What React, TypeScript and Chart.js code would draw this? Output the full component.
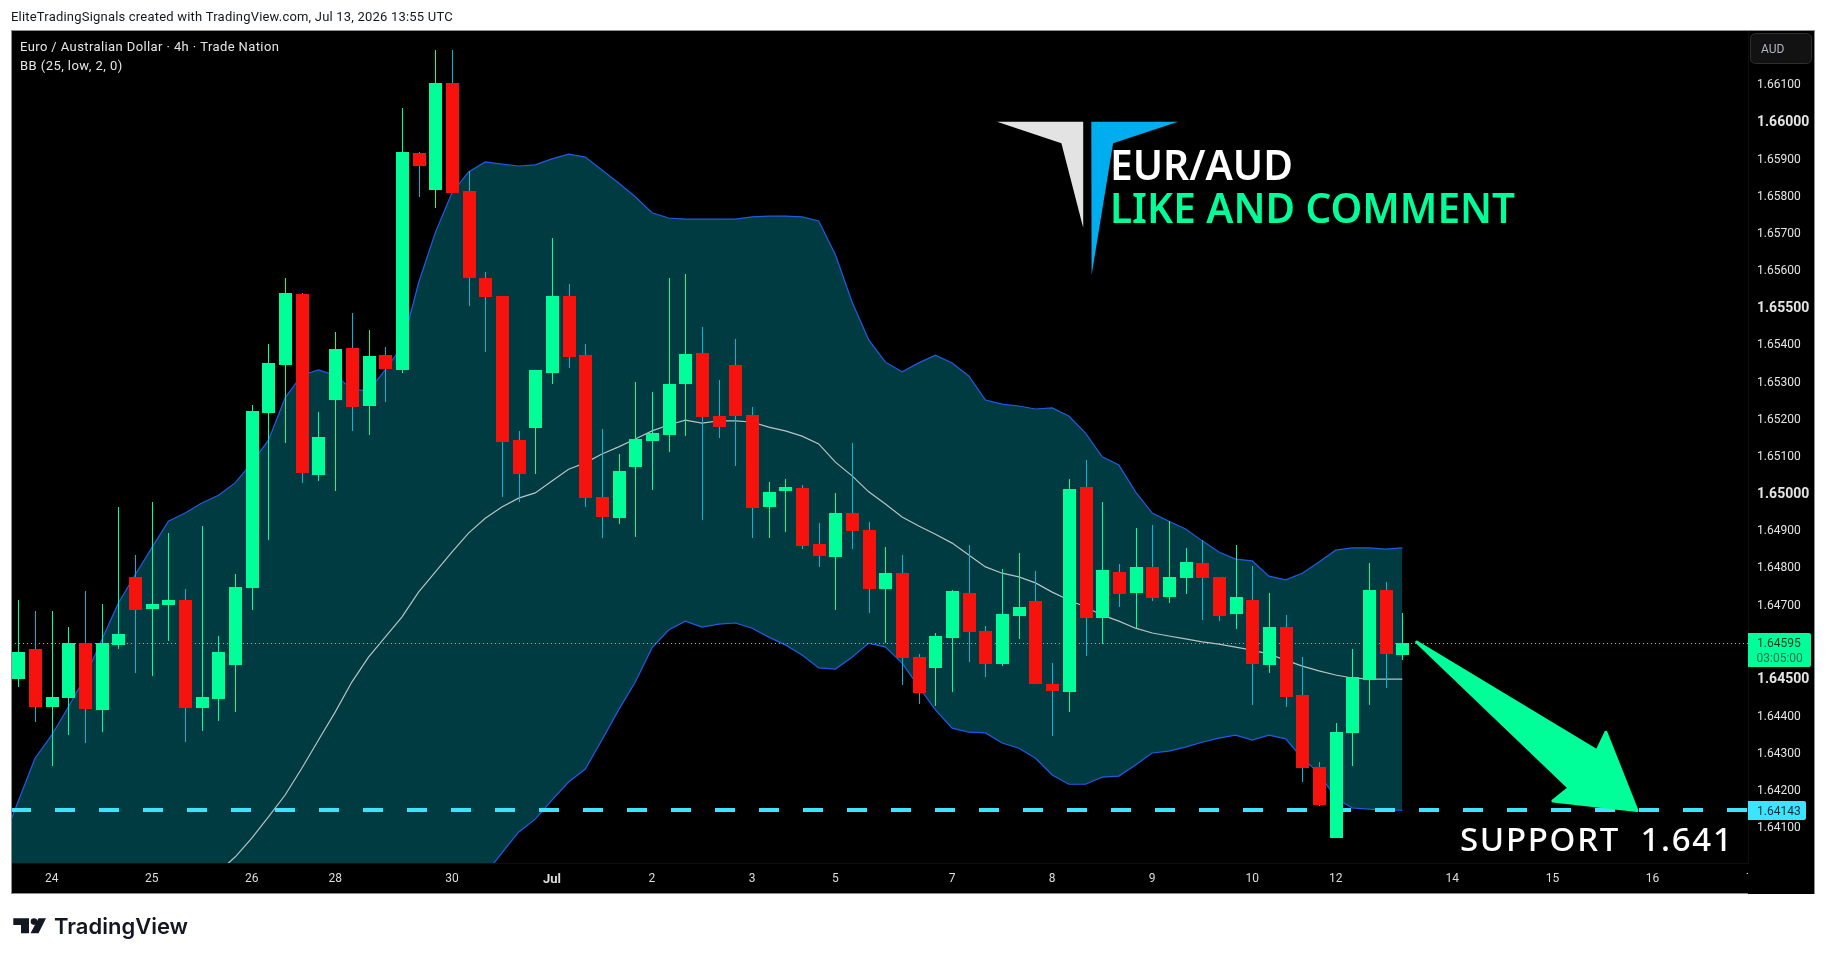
import React, { useEffect, useRef } from "react";
import { Chart, registerables } from "chart.js";

Chart.register(...registerables);

const opens = [1.64498,1.64579,1.64423,1.64447,1.64595,1.64415,1.6459,1.64773,1.64687,1.64697,1.64711,1.6442,1.64444,1.64536,1.64743,1.65214,1.65343,1.65535,1.65047,1.65249,1.65389,1.65233,1.6537,1.6533,1.65914,1.65815,1.66103,1.65812,1.65578,1.65529,1.65141,1.65174,1.65322,1.65529,1.6537,1.64988,1.64931,1.65069,1.65139,1.65155,1.65292,1.65376,1.65206,1.65343,1.65209,1.64961,1.65004,1.65012,1.64862,1.64827,1.64945,1.64899,1.6474,1.64783,1.64557,1.64528,1.64608,1.6473,1.64627,1.64538,1.64668,1.64708,1.64485,1.64463,1.65015,1.64662,1.64786,1.6473,1.648,1.64719,1.6477,1.6481,1.64773,1.64673,1.64711,1.64536,1.64638,1.64455,1.64261,1.6407,1.64353,1.64495,1.64738,1.64563];
const highs = [1.64711,1.64681,1.64681,1.64638,1.64735,1.647,1.64961,1.64832,1.64975,1.64891,1.6474,1.6491,1.64614,1.64781,1.65236,1.654,1.65578,1.65537,1.65217,1.65432,1.65483,1.65438,1.65392,1.66035,1.65917,1.66191,1.66191,1.65866,1.65594,1.65529,1.65166,1.6533,1.65685,1.65561,1.654,1.65171,1.65104,1.65298,1.65271,1.65578,1.65588,1.65446,1.65303,1.65413,1.6523,1.65028,1.65036,1.6502,1.64918,1.64999,1.65133,1.64921,1.64853,1.64832,1.64565,1.64622,1.64738,1.64859,1.64641,1.64794,1.64837,1.64789,1.64541,1.65036,1.65088,1.64975,1.64808,1.64905,1.64913,1.64923,1.64851,1.64872,1.64773,1.64859,1.64802,1.6473,1.6467,1.64557,1.64275,1.6438,1.64579,1.6481,1.64759,1.64676];
const lows = [1.64477,1.64382,1.64264,1.64347,1.64326,1.64355,1.64579,1.64514,1.64506,1.646,1.64328,1.64358,1.64385,1.64409,1.64684,1.64872,1.65133,1.65026,1.65031,1.65004,1.65166,1.65155,1.65244,1.65322,1.65796,1.65766,1.65806,1.65502,1.65378,1.64988,1.64975,1.6505,1.65292,1.65335,1.64961,1.64878,1.64915,1.6488,1.65007,1.65109,1.65152,1.64926,1.65147,1.65071,1.64878,1.64878,1.64894,1.64848,1.648,1.64684,1.64848,1.64676,1.64595,1.64482,1.64431,1.64425,1.64463,1.64544,1.64503,1.64533,1.64606,1.64485,1.64345,1.64409,1.6456,1.64592,1.64692,1.64635,1.64708,1.64703,1.64727,1.64657,1.64654,1.64633,1.64428,1.64514,1.64423,1.64221,1.64156,1.6407,1.64264,1.64428,1.64474,1.64549];
const closes = [1.64571,1.64423,1.6445,1.64595,1.64417,1.64595,1.64619,1.64684,1.647,1.64711,1.6442,1.6445,1.64571,1.64746,1.6522,1.65349,1.65537,1.65053,1.6515,1.65386,1.6523,1.65368,1.65333,1.65917,1.65879,1.66103,1.65806,1.65578,1.65526,1.65136,1.6505,1.6533,1.65529,1.65365,1.64985,1.64934,1.65058,1.65144,1.6516,1.65292,1.65373,1.65203,1.65176,1.65206,1.64958,1.65001,1.65015,1.64856,1.64829,1.64945,1.64896,1.6474,1.64783,1.64555,1.6446,1.64614,1.64735,1.64625,1.64538,1.64673,1.64692,1.64485,1.64466,1.6501,1.64662,1.64792,1.64727,1.648,1.64716,1.64773,1.64813,1.6477,1.64668,1.64719,1.64538,1.64638,1.6445,1.64258,1.64159,1.64355,1.64503,1.64738,1.64565,1.64595];

// Bollinger bands. The first value belongs to the bar just left of the visible range.
const bandUpper = [1.64054,1.6417,1.64285,1.64347,1.64423,1.64503,1.64603,1.64703,1.64778,1.64851,1.64923,1.64945,1.64972,1.64993,1.65026,1.6508,1.65141,1.65255,1.65316,1.6533,1.65316,1.65279,1.65273,1.6533,1.65392,1.65564,1.65699,1.65806,1.65863,1.6589,1.65884,1.65879,1.65882,1.65898,1.65911,1.65903,1.65868,1.65833,1.65796,1.65753,1.65739,1.65736,1.65736,1.65736,1.65736,1.65742,1.65744,1.65744,1.65742,1.65731,1.6564,1.65513,1.65411,1.65351,1.65325,1.65349,1.6537,1.65349,1.65314,1.65249,1.65238,1.65233,1.65225,1.65228,1.65206,1.6516,1.65096,1.65074,1.65002,1.64945,1.64923,1.64902,1.6487,1.6484,1.64821,1.64816,1.64775,1.64765,1.64783,1.64813,1.64845,1.64851,1.64851,1.64848,1.64851];
const bandLower = [1.6296,1.6297,1.6298,1.6297,1.6296,1.6298,1.6297,1.6298,1.6299,1.6298,1.6299,1.6298,1.6299,1.6299,1.63012,1.63061,1.63112,1.63117,1.63201,1.63338,1.63502,1.63701,1.63841,1.63892,1.63938,1.639,1.63874,1.63874,1.63919,1.63973,1.6403,1.64086,1.64121,1.64172,1.64221,1.64256,1.64334,1.64415,1.6449,1.64582,1.6463,1.64654,1.64638,1.64646,1.64649,1.64635,1.64611,1.6459,1.64563,1.64528,1.64525,1.64557,1.64595,1.64584,1.64541,1.64477,1.64415,1.64366,1.64355,1.64353,1.64326,1.64312,1.64285,1.6424,1.64215,1.64215,1.64234,1.64237,1.64267,1.64299,1.64304,1.64315,1.64328,1.64339,1.64347,1.64334,1.64347,1.64337,1.64285,1.64245,1.64178,1.64151,1.64148,1.64145,1.64145];
// The basis enters the visible range at bar 12.
const basisFirstBar = 12;
const bandBasis = [1.63979,1.64019,1.6407,1.64127,1.64186,1.64258,1.64334,1.64409,1.6449,1.64557,1.64611,1.64665,1.64732,1.64786,1.6484,1.64891,1.64931,1.64961,1.64985,1.64999,1.65031,1.65063,1.6508,1.65104,1.65123,1.65144,1.65166,1.65182,1.65195,1.65187,1.65193,1.65193,1.6519,1.65176,1.65166,1.65152,1.65131,1.65082,1.65045,1.65002,1.64969,1.64934,1.6491,1.64888,1.64864,1.64832,1.648,1.64783,1.64773,1.64757,1.64732,1.64711,1.64692,1.6467,1.64654,1.64635,1.64622,1.64614,1.64606,1.64598,1.64592,1.64584,1.64576,1.64565,1.64549,1.64533,1.6452,1.64509,1.64501,1.64498,1.64498,1.64498];

const dayTickBars = [2, 8, 14, 19, 26, 32, 38, 44, 49, 56, 62, 68, 74, 79, 86, 92, 98];
const dayTickLabels = ["24","25","26","28","30","Jul","2","3","5","7","8","9","10","12","14","15","16"];
const priceTicks = [1.661,1.66,1.659,1.658,1.657,1.656,1.655,1.654,1.653,1.652,1.651,1.65,1.649,1.648,1.647,1.646,1.645,1.644,1.643,1.642,1.641];
const majorPriceTicks = [1.66, 1.655, 1.65, 1.645];

const lastPrice = 1.64595;
const supportPrice = 1.64143;
const arrowBars = [83.86, 94.67, 95.21, 97.07, 92.03, 93.0];
const arrowPrices = [1.64598, 1.64305, 1.64355, 1.64144, 1.6417, 1.64205];

const xMin = -0.44;
const xMax = 103.73;
const yMin = 1.64003;
const yMax = 1.66245;

const GREEN = "#00ff99";
const RED = "#f7130d";
const WICK_DOWN = "#06b6d4";
const BAND = "#003b42";
const BLUE = "#1f5ce6";
const CYAN = "#3ce4ff";
const SANS = "Roboto, sans-serif";
const DISPLAY = '"Noto Sans", sans-serif';

function put(ctx: any, text: string, x: number, y: number, font: string, color: string, extra: any = {}) {
  ctx.save();
  ctx.font = font;
  ctx.fillStyle = color;
  ctx.textAlign = extra.align || "left";
  ctx.textBaseline = extra.baseline || "middle";
  ctx.letterSpacing = extra.spacing || "0px";
  if (extra.maxWidth) ctx.fillText(text, x, y, extra.maxWidth);
  else ctx.fillText(text, x, y);
  ctx.restore();
}

function poly(ctx: any, pts: number[][], color: string) {
  ctx.fillStyle = color;
  ctx.beginPath();
  pts.forEach((p, i) => (i ? ctx.lineTo(p[0], p[1]) : ctx.moveTo(p[0], p[1])));
  ctx.closePath();
  ctx.fill();
}

const pagePlugin = {
  id: "page",
  beforeDraw(chart: any) {
    const { ctx } = chart;
    ctx.save();
    ctx.fillStyle = "#ffffff";
    ctx.fillRect(0, 0, 1826, 960);
    ctx.fillStyle = "#000000";
    ctx.fillRect(11, 30, 1804, 864);
    ctx.restore();
  },
  afterDatasetsUpdate(chart: any) {
    chart.data.datasets.forEach((ds: any, i: number) => {
      const meta = chart.getDatasetMeta(i);
      if (ds.snap === "bar") {
        meta.data.forEach((el: any) => {
          el.x = Math.round(el.x) + 0.5;
          el.y = Math.round(el.y);
          el.base = Math.round(el.base);
        });
      } else if (ds.snap === "line") {
        meta.data.forEach((el: any) => {
          el.y = Math.floor(el.y) + ds.snapOffset;
        });
      }
    });
  },
  afterDatasetsDraw(chart: any) {
    const { ctx, scales } = chart;
    const xs = scales.x;
    const ys = scales.y;

    // target arrow
    ctx.save();
    ctx.fillStyle = GREEN;
    ctx.strokeStyle = GREEN;
    ctx.lineWidth = 3;
    ctx.lineJoin = "round";
    ctx.beginPath();
    arrowBars.forEach((b, i) => {
      const px = xs.getPixelForValue(b);
      const py = ys.getPixelForValue(arrowPrices[i]);
      if (i) ctx.lineTo(px, py);
      else ctx.moveTo(px, py);
    });
    ctx.closePath();
    ctx.fill();
    ctx.stroke();
    ctx.restore();

    // logo
    poly(ctx, [[997,121.7],[1083.2,121.7],[1083.2,227.7],[1061.4,143.3]], "#e3e3e3");
    poly(ctx, [[1091.3,121.7],[1178.1,121.7],[1113.1,143.3],[1091.6,275]], "#00aeef");

    put(ctx, "EUR/AUD", 1110, 180, `600 42px ${DISPLAY}`, "#ffffff", { baseline: "alphabetic", maxWidth: 183 });
    put(ctx, "LIKE AND COMMENT", 1110, 223, `600 42px ${DISPLAY}`, GREEN, { baseline: "alphabetic", maxWidth: 405 });
    put(ctx, "SUPPORT  1.641", 1460, 851, `500 33px ${DISPLAY}`, "#ffffff", { baseline: "alphabetic", spacing: "1.7px" });
  },
  afterDraw(chart: any) {
    const { ctx } = chart;
    // frame
    ctx.save();
    ctx.fillStyle = "#8f8f8f";
    ctx.fillRect(11, 30, 1804, 1);
    ctx.fillRect(11, 30, 1, 864);
    ctx.fillRect(1814, 30, 1, 864);
    ctx.fillRect(11, 893, 1737, 1);
    ctx.restore();

    // header and pane legend
    put(ctx, "EliteTradingSignals created with TradingView.com, Jul 13, 2026 13:55 UTC", 11, 18, `13px ${SANS}`, "#131722", { spacing: "0.2px" });
    put(ctx, "Euro / Australian Dollar · 4h · Trade Nation", 20, 47.5, `13px ${SANS}`, "#e6e6e6", { spacing: "0.4px" });
    put(ctx, "BB (25, low, 2, 0)", 20, 66.5, `13px ${SANS}`, "#e6e6e6", { spacing: "0.45px" });

    // partly hidden day label at the pane edge
    ctx.save();
    ctx.beginPath();
    ctx.rect(1700, 864, 48, 28);
    ctx.clip();
    put(ctx, "17", 1752.5, 878, `12px ${SANS}`, "#dddddd", { align: "center" });
    ctx.restore();

    // currency button
    ctx.save();
    ctx.beginPath();
    ctx.roundRect(1750.5, 33.5, 61, 30, 5);
    ctx.fillStyle = "#121212";
    ctx.fill();
    ctx.strokeStyle = "#2e2e2e";
    ctx.stroke();
    ctx.restore();
    put(ctx, "AUD", 1761, 49.5, `12px ${SANS}`, "#b2b5be");

    // price tags
    ctx.save();
    ctx.fillStyle = GREEN;
    ctx.beginPath();
    ctx.roundRect(1748, 633, 63, 34, [0, 2, 2, 0]);
    ctx.fill();
    ctx.fillStyle = CYAN;
    ctx.beginPath();
    ctx.roundRect(1748, 801, 58, 19, [0, 2, 2, 0]);
    ctx.fill();
    ctx.restore();
    put(ctx, lastPrice.toFixed(5), 1757, 643.5, `12px ${SANS}`, "#0b3a2a");
    put(ctx, "03:05:00", 1756.5, 658.5, `12px ${SANS}`, "#1f6a50");
    put(ctx, supportPrice.toFixed(5), 1757, 812, `12px ${SANS}`, "#0b2a35");

    // TradingView mark
    poly(ctx, [[13.3,918.3],[29,918.3],[29,933.3],[21,933.3],[21,925],[13.3,925]], "#131722");
    ctx.save();
    ctx.fillStyle = "#131722";
    ctx.beginPath();
    ctx.arc(34, 921.6, 3.3, 0, Math.PI * 2);
    ctx.fill();
    ctx.restore();
    poly(ctx, [[38.5,918.3],[46,918.3],[38.5,933.3],[30.5,933.3]], "#131722");
    put(ctx, "TradingView", 54, 934, `600 22px Inter, sans-serif`, "#131722", { baseline: "alphabetic" });
  },
};

export default function App() {
  const ref = useRef<HTMLCanvasElement | null>(null);

  useEffect(() => {
    const bars = opens.map((_, i) => i);
    const upColor = (i: number) => closes[i] >= opens[i];
    const chart = new Chart(ref.current as any, {
      type: "bar",
      data: {
        datasets: [
          {
            type: "line",
            data: bandUpper.map((y, k) => ({ x: k - 1, y })),
            borderColor: BLUE,
            borderWidth: 1.2,
            pointRadius: 0,
            tension: 0,
            fill: { target: 1, above: BAND, below: BAND },
            order: 10,
          },
          {
            type: "line",
            data: bandLower.map((y, k) => ({ x: k - 1, y })),
            borderColor: BLUE,
            borderWidth: 1.2,
            pointRadius: 0,
            tension: 0,
            fill: false,
            order: 9,
          },
          {
            type: "line",
            data: bandBasis.map((y, k) => ({ x: k + basisFirstBar, y })),
            borderColor: "#b8c2c4",
            borderWidth: 1.2,
            pointRadius: 0,
            tension: 0,
            fill: false,
            order: 8,
          },
          {
            type: "line",
            data: [{ x: xMin, y: supportPrice }, { x: xMax, y: supportPrice }],
            borderColor: CYAN,
            borderWidth: 4,
            borderDash: [20, 24],
            pointRadius: 0,
            fill: false,
            order: 7,
            snap: "line",
            snapOffset: 0,
          },
          {
            type: "line",
            data: [{ x: xMin, y: lastPrice }, { x: xMax, y: lastPrice }],
            borderColor: GREEN,
            borderWidth: 1,
            borderDash: [1, 3],
            pointRadius: 0,
            fill: false,
            order: 6,
            snap: "line",
            snapOffset: 0.5,
          },
          {
            type: "bar",
            data: bars.map((i) => ({ x: i, y: [lows[i], highs[i]] })),
            backgroundColor: bars.map((i) => (upColor(i) ? GREEN : WICK_DOWN)),
            barThickness: 1,
            grouped: false,
            inflateAmount: 0,
            borderWidth: 0,
            order: 2,
            snap: "bar",
          },
          {
            type: "bar",
            data: bars.map((i) => ({ x: i, y: [opens[i], closes[i]] })),
            backgroundColor: bars.map((i) => (upColor(i) ? GREEN : RED)),
            barThickness: 13,
            grouped: false,
            inflateAmount: 0,
            borderWidth: 0,
            order: 1,
            snap: "bar",
          },
        ] as any,
      },
      options: {
        responsive: false,
        animation: false,
        devicePixelRatio: 1,
        events: [],
        layout: { padding: { left: 11, top: 30, right: 12, bottom: 67 } },
        plugins: { legend: { display: false }, tooltip: { enabled: false } },
        scales: {
          x: {
            type: "linear",
            offset: false,
            min: xMin,
            max: xMax,
            grid: { display: false, drawTicks: false },
            border: { color: "#0e0e0e" },
            afterBuildTicks(scale: any) {
              scale.ticks = dayTickBars.map((value) => ({ value }));
            },
            afterFit(scale: any) {
              scale.height = 30;
            },
            ticks: {
              autoSkip: false,
              maxRotation: 0,
              padding: 9,
              color: "#dddddd",
              callback: (_v: any, i: number) => dayTickLabels[i],
              font: (c: any) =>
                dayTickLabels[dayTickBars.indexOf(c.tick?.value)] === "Jul"
                  ? { family: SANS, size: 13, weight: "bold" }
                  : { family: SANS, size: 12 },
            },
          },
          y: {
            type: "linear",
            position: "right",
            min: yMin,
            max: yMax,
            grid: { display: false, drawTicks: false },
            border: { color: "#0e0e0e" },
            afterBuildTicks(scale: any) {
              scale.ticks = priceTicks.map((value) => ({ value }));
            },
            afterFit(scale: any) {
              scale.width = 66;
            },
            ticks: {
              autoSkip: false,
              padding: 9,
              labelOffset: 1.5,
              color: "#e4e4e4",
              callback: (v: any) => Number(v).toFixed(5),
              font: (c: any) =>
                majorPriceTicks.includes(c.tick?.value)
                  ? { family: SANS, size: 14, weight: "bold" }
                  : { family: SANS, size: 12 },
            },
          },
        },
      } as any,
      plugins: [pagePlugin] as any,
    });
    return () => chart.destroy();
  }, []);

  return (
    <div style={{ position: "absolute", left: 0, top: 0, width: 1826, height: 960, overflow: "hidden" }}>
      <canvas ref={ref} width={1826} height={960} style={{ display: "block", width: 1826, height: 960 }} />
    </div>
  );
}
